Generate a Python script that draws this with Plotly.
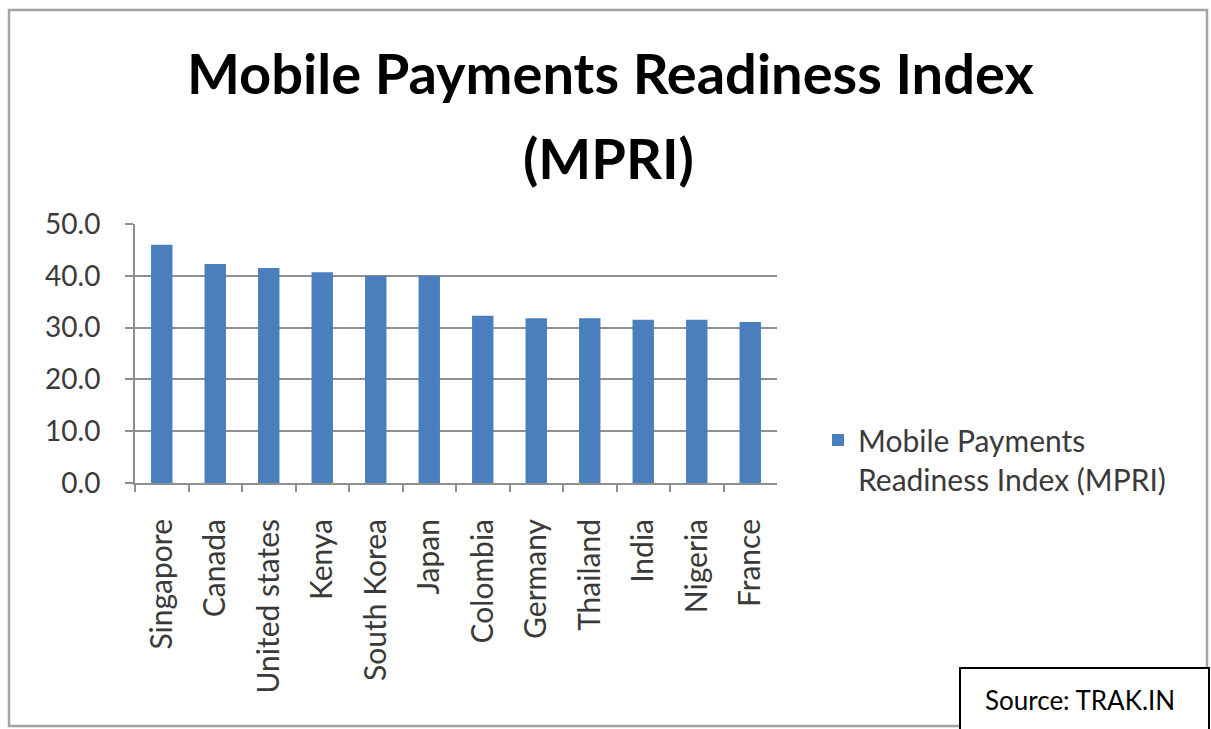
import plotly.graph_objects as go

# Mobile Payments Readiness Index scores by country
countries = ["Singapore", "Canada", "United states", "Kenya", "South Korea", "Japan",
             "Colombia", "Germany", "Thailand", "India", "Nigeria", "France"]
mpri_scores = [46.0, 42.3, 41.5, 40.7, 40.0, 40.0, 32.3, 31.8, 31.8, 31.5, 31.5, 31.1]
y_tick_values = [0, 10, 20, 30, 40, 50]
y_tick_labels = ["0.0", "10.0", "20.0", "30.0", "40.0", "50.0"]

W, H = 1211, 729
FONT = "Lato"
BAR_BLUE = "#4a7ebd"
GRID = "#8f8f8f"
TEXT = "#3a3a3a"


def px_x(x):
    return x / W


def px_y(y):
    return 1 - y / H


fig = go.Figure()
fig.add_trace(go.Bar(
    x=countries,
    y=mpri_scores,
    name="Mobile Payments<br>Readiness Index (MPRI)",
    marker=dict(color=BAR_BLUE, line=dict(width=0)),
    showlegend=True,
))

fig.update_layout(
    width=W, height=H,
    autosize=False,
    margin=dict(l=0, r=0, t=0, b=0, pad=0, autoexpand=False),
    paper_bgcolor="white",
    plot_bgcolor="white",
    bargap=0.6,
    font=dict(family=FONT, color=TEXT),
    xaxis=dict(
        domain=[px_x(135), px_x(777)],
        type="category",
        tickangle=-90,
        tickfont=dict(size=30, color=TEXT, family=FONT),
        showline=True, linecolor=GRID, linewidth=2,
        ticks="outside", ticklen=7, tickcolor=GRID, tickwidth=1.5,
        tickson="boundaries",
        ticklabelstandoff=22,
        showgrid=False,
        zeroline=False,
        automargin=False,
    ),
    yaxis=dict(
        domain=[px_y(483), px_y(224)],
        range=[0, 50],
        tickmode="array",
        tickvals=y_tick_values,
        ticktext=y_tick_labels,
        tickfont=dict(size=28, color=TEXT, family=FONT),
        showline=True, linecolor=GRID, linewidth=2,
        ticks="outside", ticklen=8, tickcolor=GRID, tickwidth=1.5,
        ticklabelstandoff=19,
        showgrid=True, gridcolor=GRID, gridwidth=2,
        zeroline=False,
        automargin=False,
    ),
    legend=dict(
        x=px_x(818), y=px_y(414),
        xanchor="left", yanchor="top",
        valign="top",
        font=dict(size=30, color=TEXT, family=FONT),
        bgcolor="rgba(0,0,0,0)",
        itemsizing="constant",
    ),
)

# Chart title on two lines
fig.add_annotation(
    text="<b>Mobile Payments Readiness Index</b>",
    xref="paper", yref="paper", x=px_x(610), y=px_y(73),
    xanchor="center", yanchor="middle", showarrow=False,
    font=dict(size=56, color="black", family=FONT),
)
fig.add_annotation(
    text="<b>(MPRI)</b>",
    xref="paper", yref="paper", x=px_x(608), y=px_y(157),
    xanchor="center", yanchor="middle", showarrow=False,
    font=dict(size=56, color="black", family=FONT),
)

# Outer chart frame
fig.add_shape(
    type="rect", xref="paper", yref="paper",
    x0=px_x(9), x1=px_x(1207), y0=px_y(726), y1=px_y(10),
    line=dict(color="#a3a3a3", width=2.5), fillcolor="rgba(0,0,0,0)",
    layer="below",
)

# Source box in the lower-right corner
fig.add_shape(
    type="rect", xref="paper", yref="paper",
    x0=px_x(960), x1=px_x(1209), y0=px_y(740), y1=px_y(668),
    line=dict(color="black", width=2), fillcolor="white",
    layer="above",
)
fig.add_annotation(
    text="Source: TRAK.IN",
    xref="paper", yref="paper", x=px_x(983), y=px_y(700),
    xanchor="left", yanchor="middle", showarrow=False,
    font=dict(size=26, color="black", family=FONT),
)

fig.write_html("out.html")
